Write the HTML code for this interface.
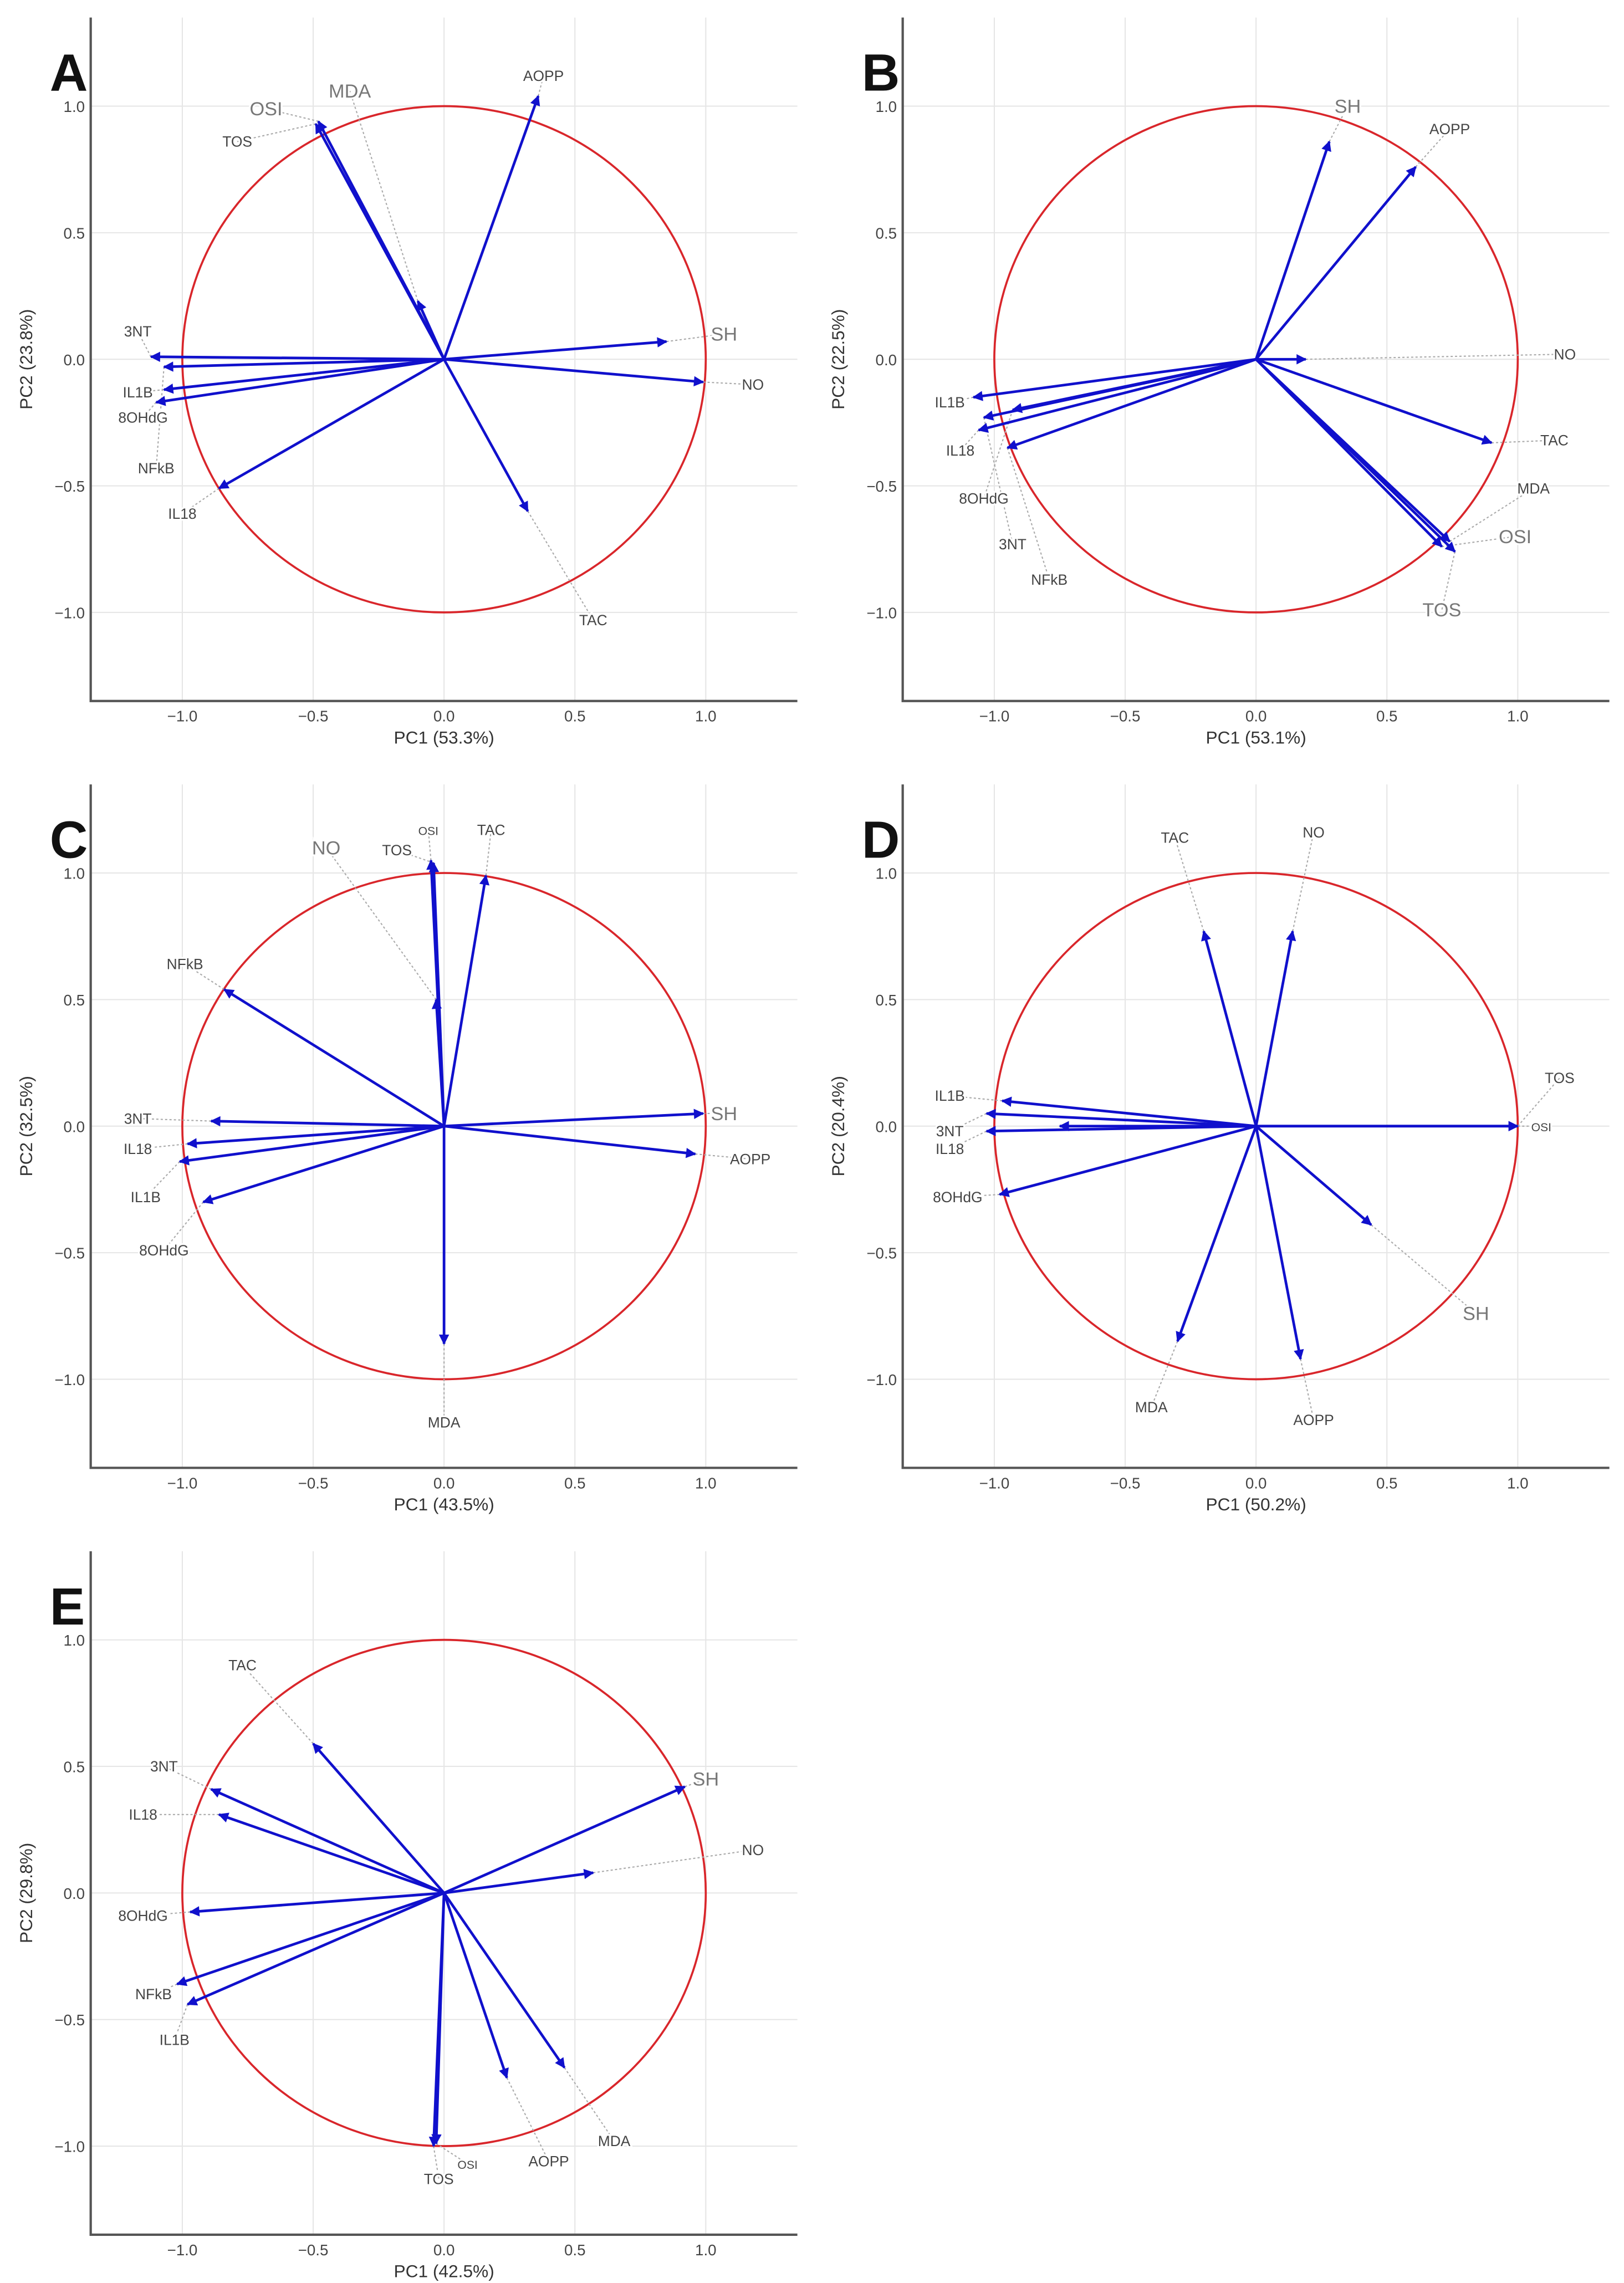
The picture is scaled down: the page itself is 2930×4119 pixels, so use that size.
<!DOCTYPE html>
<html><head><meta charset="utf-8"><style>
html,body{margin:0;padding:0;background:#fff;}
svg{display:block;}
text{font-family:"Liberation Sans",sans-serif;}
</style></head><body>
<svg id="fig" width="2930" height="4119" viewBox="0 0 1110 1560" preserveAspectRatio="none" xmlns="http://www.w3.org/2000/svg">
<defs>
<marker id="ah" viewBox="0 0 10 10" refX="9" refY="5" markerWidth="9" markerHeight="7" markerUnits="userSpaceOnUse" orient="auto">
<path d="M0,0 L10,5 L0,10 z" fill="#1010cc"/></marker>
</defs>
</svg>
<script>
// Panel A
const namesA = ["TOS","OSI","MDA","AOPP","SH","NO","TAC","IL18","3NT","NFkB","IL1B","8OHdG"];
const xA = [-0.49,-0.48,-0.1,0.36,0.85,0.99,0.32,-0.86,-1.12,-1.07,-1.07,-1.1];
const yA = [0.93,0.94,0.23,1.04,0.07,-0.09,-0.6,-0.51,0.01,-0.03,-0.12,-0.17];
const lxA = [-0.79,-0.68,-0.36,0.38,1.07,1.18,0.57,-1.0,-1.17,-1.1,-1.17,-1.15];
const lyA = [0.86,0.99,1.06,1.12,0.10,-0.10,-1.03,-0.61,0.11,-0.43,-0.13,-0.23];
const bigA = ["OSI","MDA","SH"];
// Panel B
const namesB = ["SH","AOPP","NO","TAC","MDA","OSI","TOS","IL1B","IL18","8OHdG","3NT","NFkB"];
const xB = [0.28,0.61,0.19,0.9,0.74,0.71,0.76,-1.08,-1.06,-0.93,-1.04,-0.95];
const yB = [0.86,0.76,0.0,-0.33,-0.72,-0.74,-0.76,-0.15,-0.28,-0.2,-0.23,-0.35];
const lxB = [0.35,0.74,1.18,1.14,1.06,0.99,0.71,-1.17,-1.13,-1.04,-0.93,-0.79];
const lyB = [1.0,0.91,0.02,-0.32,-0.51,-0.70,-0.99,-0.17,-0.36,-0.55,-0.73,-0.87];
const bigB = ["SH","OSI","TOS"];
// Panel C
const namesC = ["OSI","TOS","NO","TAC","NFkB","SH","AOPP","MDA","3NT","IL18","IL1B","8OHdG"];
const xC = [-0.05,-0.04,-0.03,0.16,-0.84,0.99,0.96,0,-0.89,-0.98,-1.01,-0.92];
const yC = [1.05,1.04,0.5,0.99,0.54,0.05,-0.11,-0.86,0.02,-0.07,-0.14,-0.3];
const lxC = [-0.06,-0.18,-0.45,0.18,-0.99,1.07,1.17,0,-1.17,-1.17,-1.14,-1.07];
const lyC = [1.17,1.09,1.10,1.17,0.64,0.05,-0.13,-1.17,0.03,-0.09,-0.28,-0.49];
const bigC = ["NO","SH"];
// Panel D
const namesD = ["TAC","NO","TOS","OSI","SH","AOPP","MDA","IL1B","3NT","IL18","8OHdG",""];
const xD = [-0.2,0.14,1.0,1.0,0.44,0.17,-0.3,-0.97,-1.03,-1.03,-0.98,-0.75];
const yD = [0.77,0.77,0,0,-0.39,-0.92,-0.85,0.1,0.05,-0.02,-0.27,0];
const lxD = [-0.31,0.22,1.16,1.09,0.84,0.22,-0.4,-1.17,-1.17,-1.17,-1.14,-0.75];
const lyD = [1.14,1.16,0.19,0.0,-0.74,-1.16,-1.11,0.12,-0.02,-0.09,-0.28,0];
const bigD = ["SH"];
// Panel E
const namesE = ["TAC","3NT","IL18","SH","NO","8OHdG","NFkB","IL1B","TOS","OSI","AOPP","MDA"];
const xE = [-0.5,-0.89,-0.86,0.92,0.57,-0.97,-1.02,-0.98,-0.04,-0.03,0.24,0.46];
const yE = [0.59,0.41,0.31,0.42,0.08,-0.075,-0.36,-0.44,-1.0,-0.99,-0.73,-0.69];
const lxE = [-0.77,-1.07,-1.15,1.0,1.18,-1.15,-1.11,-1.03,-0.02,0.09,0.4,0.65];
const lyE = [0.9,0.5,0.31,0.45,0.17,-0.09,-0.4,-0.58,-1.13,-1.07,-1.06,-0.98];
const bigE = ["SH"];
const ticks = [-1,-0.5,0,0.5,1];
const tickLabels = ["\u22121.0","\u22120.5","0.0","0.5","1.0"];

const NS="http://www.w3.org/2000/svg";
const svg=document.getElementById('fig');
function mk(tag,attrs,parent){const e=document.createElementNS(NS,tag);for(const k in attrs)e.setAttribute(k,attrs[k]);(parent||svg).appendChild(e);return e;}

function panel(letter,L,T,names,xs,ys,lxs,lys,big,pc1,pc2){
  const W=483,H=467,lim=1.35;
  const g=mk('g',{});
  
  
  const sx=v=>L+(v+lim)/(2*lim)*W;
  const sy=v=>T+(lim-v)/(2*lim)*H;
  ticks.forEach((t,i)=>{
    const gx=mk('line',{x1:sx(t),x2:sx(t),y1:T,y2:T+H,stroke:'#e6e6e6','stroke-width':0.8},g);
    
    
    const gy=mk('line',{x1:L,x2:L+W,y1:sy(t),y2:sy(t),stroke:'#e6e6e6','stroke-width':0.8},g);
    
    
    const tx=mk('text',{x:sx(t),y:T+H+14,'font-size':10.5,fill:'#444','text-anchor':'middle'},g);tx.textContent=tickLabels[i];
    
    
    const ty=mk('text',{x:L-4,y:sy(t)+4,'font-size':10.5,fill:'#444','text-anchor':'end'},g);ty.textContent=tickLabels[i];
    
    
  });
  const ax=mk('path',{d:`M${L},${T} L${L},${T+H} L${L+W},${T+H}`,fill:'none',stroke:'#555','stroke-width':1.6},g);
  
  
  const c=mk('ellipse',{cx:sx(0),cy:sy(0),rx:sx(1)-sx(0),ry:sy(0)-sy(1),fill:'none',stroke:'#d9262b','stroke-width':1.4},g);
  
  
  names.forEach((n,i)=>{
    const dl=mk('line',{x1:sx(xs[i]),y1:sy(ys[i]),x2:sx(lxs[i]),y2:sy(lys[i]),stroke:'#aaa','stroke-width':0.8,'stroke-dasharray':'1.5,1.5'},g);
    
    
  });
  names.forEach((n,i)=>{
    const a=mk('line',{x1:sx(0),y1:sy(0),x2:sx(xs[i]),y2:sy(ys[i]),stroke:'#1010cc','stroke-width':1.8,'marker-end':'url(#ah)'},g);
    
    
  });
  names.forEach((n,i)=>{
    if(!n)return;
    const isBig=big.includes(n);
    const t=mk('text',{x:sx(lxs[i]),y:sy(lys[i])+(isBig?4.5:3.5),'font-size':isBig?13:(n==='OSI'?8:10),fill:isBig?'#777':'#444','text-anchor':'middle',stroke:'#fff','stroke-width':2.5,'paint-order':'stroke'},g);
    t.textContent=n;
    
    
  });
  const xl=mk('text',{x:L+W/2,y:T+H+29,'font-size':12,fill:'#333','text-anchor':'middle'},g);xl.textContent=pc1;
  
  
  const yl=mk('text',{x:0,y:0,'font-size':12,fill:'#333','text-anchor':'middle',transform:`translate(${L-40},${T+H/2}) rotate(-90)`},g);yl.textContent=pc2;
  
  
  const pl=mk('text',{x:L-28,y:T+50,'font-size':36,'font-weight':'bold',fill:'#111'},g);pl.textContent=letter;
  
  
}
panel('A',62,12,namesA,xA,yA,lxA,lyA,bigA,'PC1 (53.3%)','PC2 (23.8%)');
panel('B',617,12,namesB,xB,yB,lxB,lyB,bigB,'PC1 (53.1%)','PC2 (22.5%)');
panel('C',62,536,namesC,xC,yC,lxC,lyC,bigC,'PC1 (43.5%)','PC2 (32.5%)');
panel('D',617,536,namesD,xD,yD,lxD,lyD,bigD,'PC1 (50.2%)','PC2 (20.4%)');
panel('E',62,1060,namesE,xE,yE,lxE,lyE,bigE,'PC1 (42.5%)','PC2 (29.8%)');
</script>
</body></html>
